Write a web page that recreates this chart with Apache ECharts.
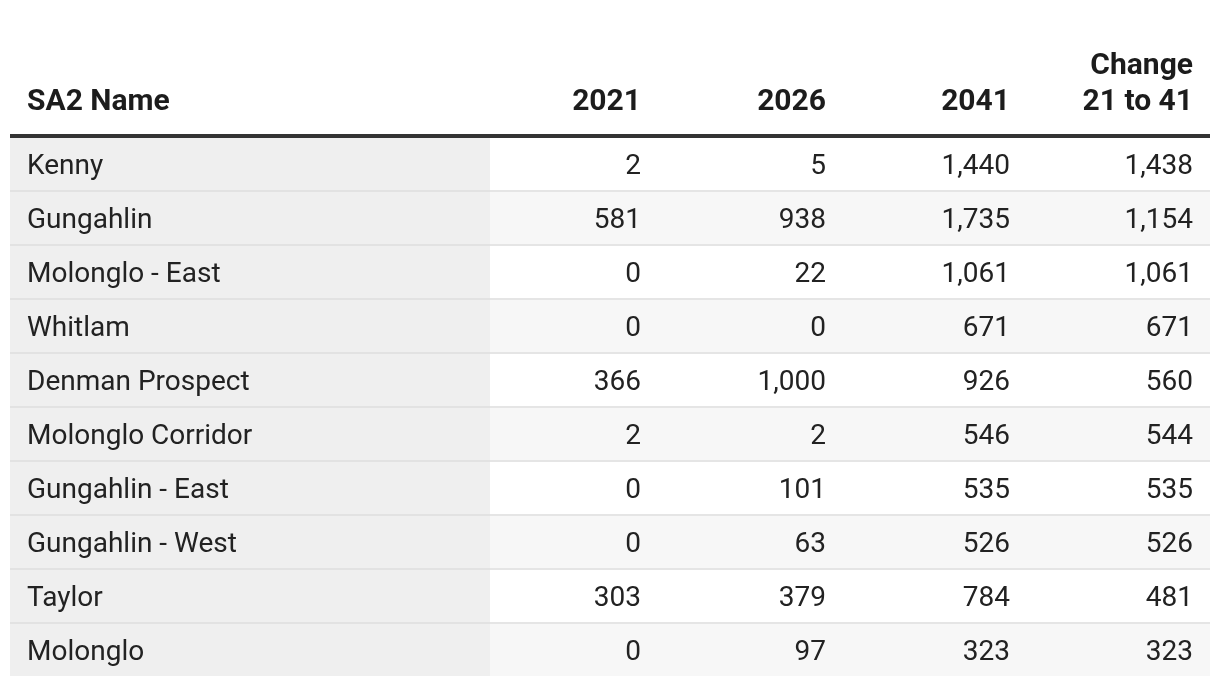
<!DOCTYPE html>
<html>
<head>
<meta charset="utf-8">
<script src="https://cdn.jsdelivr.net/npm/echarts@6/dist/echarts.min.js"></script>
<style>
html,body{margin:0;padding:0;background:#fff;}
#chart{width:1220px;height:686px;}
</style>
</head>
<body>
<div id="chart"></div>
<script>
// ---- data ----
const headers = ['SA2 Name', '2021', '2026', '2041', 'Change\n21 to 41'];
const names = ['Kenny', 'Gungahlin', 'Molonglo - East', 'Whitlam', 'Denman Prospect',
  'Molonglo Corridor', 'Gungahlin - East', 'Gungahlin - West', 'Taylor', 'Molonglo'];
const v2021 = [2, 581, 0, 0, 366, 2, 0, 0, 303, 0];
const v2026 = [5, 938, 22, 0, 1000, 2, 101, 63, 379, 97];
const v2041 = [1440, 1735, 1061, 671, 926, 546, 535, 526, 784, 323];
const change = [1438, 1154, 1061, 671, 560, 544, 535, 526, 481, 323];

// ---- layout config (column boundaries in axis units) ----
const bounds = [0, 480, 648, 833, 1017, 1200];
const PAD = 17;
const FONT = 'Roboto, "Noto Sans", sans-serif';

const fmt = v => v.toLocaleString('en-US');
const columns = [names, v2021.map(fmt), v2026.map(fmt), v2041.map(fmt), change.map(fmt)];

const cells = [];
columns.forEach((col, c) => col.forEach((t, r) => cells.push([c, r, t])));
const headerData = headers.map((h, c) => [c, 0, h]);

const chart = echarts.init(document.getElementById('chart'), null, {renderer: 'canvas'});

function cellRender(params, api) {
  const col = api.value(0), row = api.value(1);
  const text = cells[params.dataIndex][2];
  const x0 = api.coord([bounds[col], row])[0];
  const x1 = api.coord([bounds[col + 1], row])[0];
  const yc = api.coord([0, row])[1];
  const h = api.size([0, 1])[1];
  const top = yc - h / 2;
  const fill = col === 0 ? '#efefef' : (row % 2 ? '#f7f7f7' : '#ffffff');
  const children = [
    {type: 'rect', shape: {x: x0, y: top, width: x1 - x0, height: h - 2}, style: {fill: fill}},
    {type: 'text', style: {
      text: text, x: col === 0 ? x0 + PAD : x1 - PAD, y: top + (h - 2) / 2 + 3,
      align: col === 0 ? 'left' : 'right', verticalAlign: 'middle',
      font: '28px ' + FONT, fill: '#222222'
    }}
  ];
  if (row < names.length - 1) {
    children.push({type: 'rect', shape: {x: x0, y: top + h - 2, width: x1 - x0, height: 2},
      style: {fill: col === 0 ? '#e2e2e2' : '#e5e5e5'}});
  }
  return {type: 'group', children: children};
}

function headerRender(params, api) {
  const col = api.value(0);
  const cs = params.coordSys;
  const text = headerData[params.dataIndex][2];
  const x0 = api.coord([bounds[col], 0])[0];
  const x1 = api.coord([bounds[col + 1], 0])[0];
  const children = [
    {type: 'text', style: {
      text: text, x: col === 0 ? x0 + PAD : x1 - PAD, y: cs.y - 18,
      align: col === 0 ? 'left' : 'right', verticalAlign: 'bottom',
      font: 'bold 30px ' + FONT, lineHeight: 36, fill: '#1c1c1c'
    }}
  ];
  children.push({type: 'rect', shape: {x: x0, y: cs.y - 4, width: x1 - x0, height: 4}, style: {fill: '#333333'}});
  return {type: 'group', children: children};
}

chart.setOption({
  animation: false,
  backgroundColor: '#ffffff',
  grid: {left: 10, right: 10, top: 138, bottom: 8},
  xAxis: {type: 'value', min: 0, max: 1200, show: false},
  yAxis: {type: 'category', data: names, inverse: true, show: false},
  series: [
    {type: 'custom', renderItem: cellRender, data: cells.map(d => [d[0], d[1]]), encode: {x: 0, y: 1}, clip: false},
    {type: 'custom', renderItem: headerRender, data: headerData.map(d => [d[0], d[1]]), encode: {x: 0, y: 1}, clip: false}
  ]
});
</script>
</body>
</html>
